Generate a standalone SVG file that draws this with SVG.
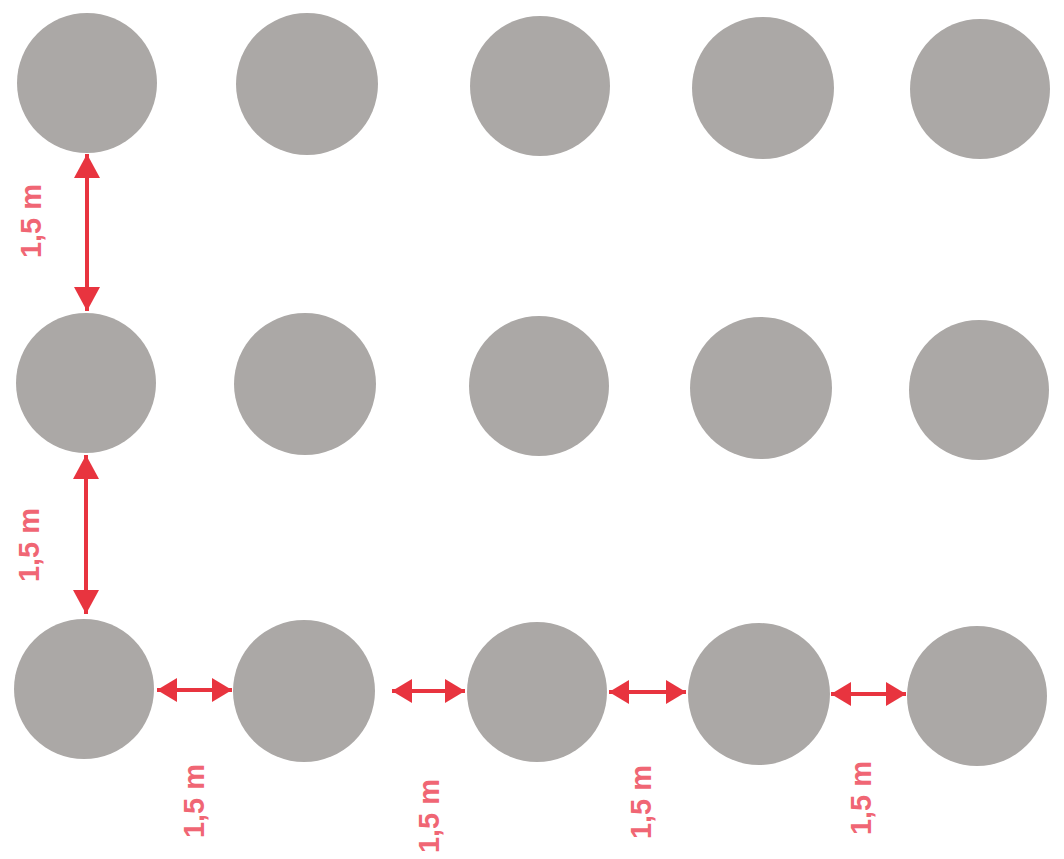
<svg xmlns="http://www.w3.org/2000/svg" width="1064" height="859" viewBox="0 0 1064 859">
<style>
.c{fill:#aba8a6}
.a{stroke:#e8343f;stroke-width:4;fill:none}
.v{marker-start:url(#hv);marker-end:url(#hv)}
.h{marker-start:url(#hh);marker-end:url(#hh)}
.t{font-family:"Liberation Sans",Arial,sans-serif;font-weight:bold;font-size:29px;fill:#f06674;text-anchor:middle}
</style>
<defs>
<marker id="hv" markerUnits="userSpaceOnUse" viewBox="0 0 24 26" refX="24" refY="13" markerWidth="24" markerHeight="26" orient="auto-start-reverse"><path d="M0,0 L24,13 L0,26 Z" fill="#e8343f"/></marker>
<marker id="hh" markerUnits="userSpaceOnUse" viewBox="0 0 20 24" refX="20" refY="12" markerWidth="20" markerHeight="24" orient="auto-start-reverse"><path d="M0,0 L20,12 L0,24 Z" fill="#e8343f"/></marker>
</defs>
<rect width="1064" height="859" fill="#ffffff"/>
<g id="r1c1"><circle class="c" cx="87" cy="83" r="70"/></g>
<g id="r1c2"><circle class="c" cx="307" cy="84" r="71"/></g>
<g id="r1c3"><circle class="c" cx="540" cy="86" r="70"/></g>
<g id="r1c4"><circle class="c" cx="763" cy="88" r="71"/></g>
<g id="r1c5"><circle class="c" cx="980" cy="89" r="70"/></g>
<g id="r2c1"><circle class="c" cx="86" cy="383" r="70"/></g>
<g id="r2c2"><circle class="c" cx="305" cy="384" r="71"/></g>
<g id="r2c3"><circle class="c" cx="539" cy="386" r="70"/></g>
<g id="r2c4"><circle class="c" cx="761" cy="388" r="71"/></g>
<g id="r2c5"><circle class="c" cx="979" cy="390" r="70"/></g>
<g id="r3c1"><circle class="c" cx="84" cy="689" r="70"/></g>
<g id="r3c2"><circle class="c" cx="304" cy="691" r="71"/></g>
<g id="r3c3"><circle class="c" cx="537" cy="692" r="70"/></g>
<g id="r3c4"><circle class="c" cx="759" cy="694" r="71"/></g>
<g id="r3c5"><circle class="c" cx="977" cy="696" r="70"/></g>
<g id="connectors">
<line class="a v" x1="87" y1="154" x2="87" y2="311"/>
<line class="a v" x1="86" y1="455" x2="86" y2="614"/>
<line class="a h" x1="157" y1="690" x2="232" y2="690"/>
<line class="a h" x1="392" y1="691" x2="465" y2="691"/>
<line class="a h" x1="609" y1="692" x2="686" y2="692"/>
<line class="a h" x1="831" y1="694" x2="906" y2="694"/>
</g>
<g id="labels">
<text class="t" transform="translate(41,221) rotate(-90)">1,5 m</text>
<text class="t" transform="translate(39,545) rotate(-90)">1,5 m</text>
<text class="t" transform="translate(204,801) rotate(-90)">1,5 m</text>
<text class="t" transform="translate(439,816) rotate(-90)">1,5 m</text>
<text class="t" transform="translate(651,802) rotate(-90)">1,5 m</text>
<text class="t" transform="translate(871,798) rotate(-90)">1,5 m</text>
</g>
</svg>
